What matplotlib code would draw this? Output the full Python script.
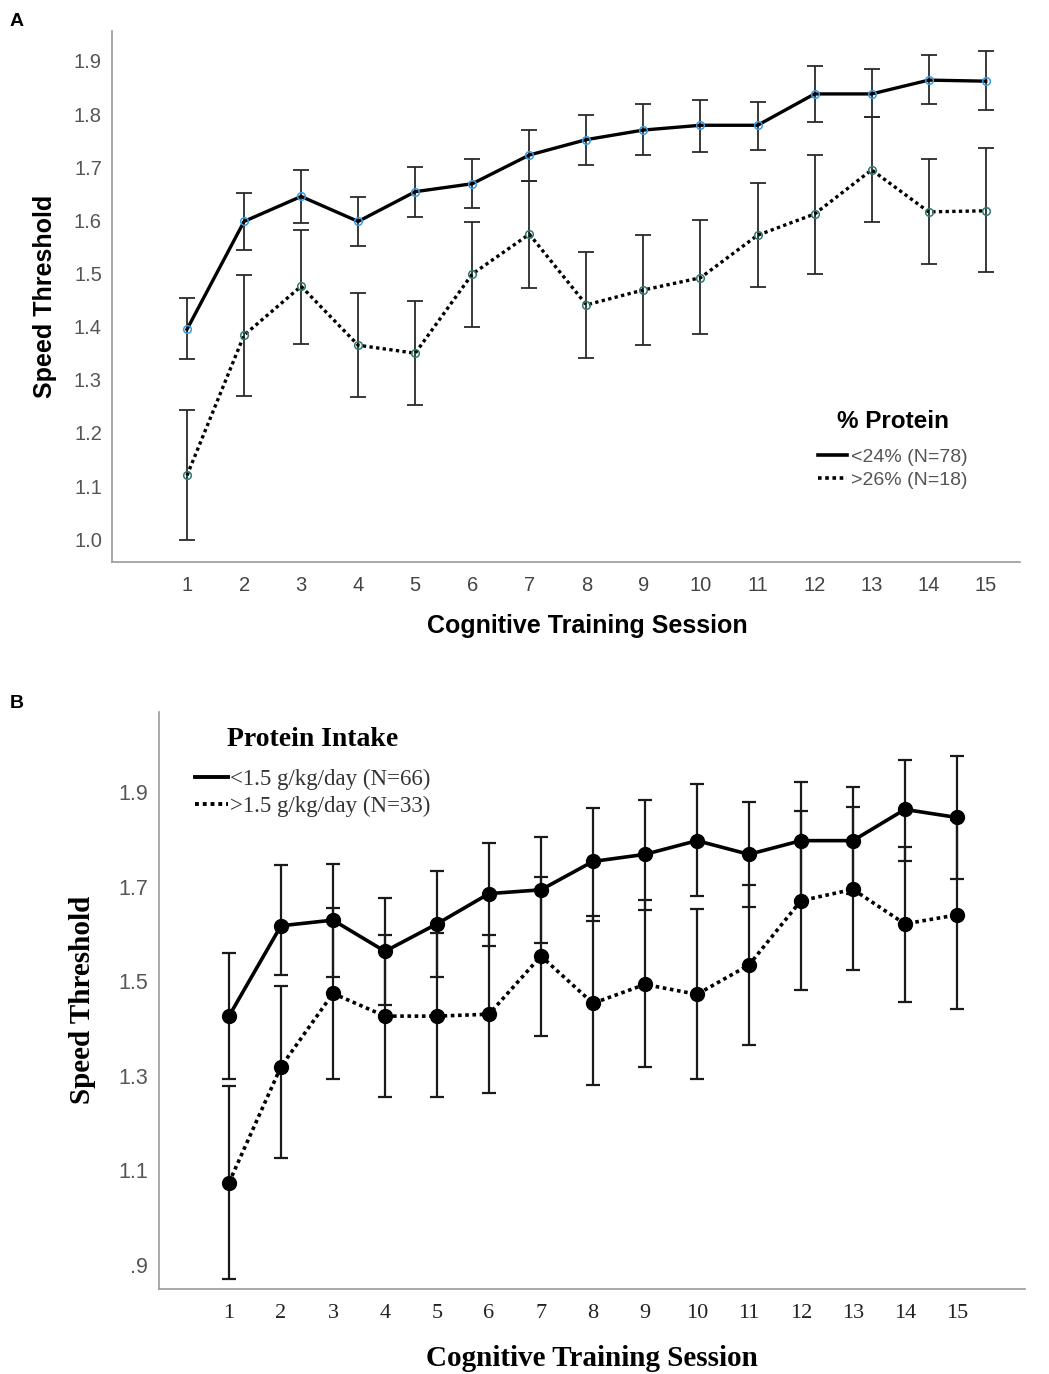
import numpy as np
import matplotlib
matplotlib.use("Agg")
from matplotlib import pyplot as plt
from matplotlib.lines import Line2D

sessions = list(range(1, 16))

# panel A: % protein
a_low_mean = [1.395, 1.598, 1.645, 1.598, 1.654, 1.669, 1.723, 1.752, 1.770, 1.779, 1.779, 1.838, 1.838, 1.864, 1.862]
a_low_top = [1.454, 1.652, 1.695, 1.644, 1.700, 1.715, 1.770, 1.799, 1.819, 1.826, 1.823, 1.891, 1.885, 1.911, 1.918]
a_low_bot = [1.339, 1.544, 1.595, 1.551, 1.607, 1.623, 1.674, 1.705, 1.723, 1.729, 1.732, 1.785, 1.794, 1.819, 1.808]
a_high_mean = [1.120, 1.384, 1.476, 1.365, 1.350, 1.499, 1.574, 1.441, 1.469, 1.492, 1.572, 1.612, 1.695, 1.616, 1.618]
a_high_top = [1.243, 1.497, 1.582, 1.463, 1.449, 1.596, 1.674, 1.541, 1.572, 1.600, 1.671, 1.723, 1.794, 1.716, 1.736]
a_high_bot = [0.999, 1.270, 1.368, 1.267, 1.253, 1.400, 1.472, 1.341, 1.365, 1.387, 1.474, 1.500, 1.596, 1.518, 1.503]
a_labels = ["<24% (N=78)", ">26% (N=18)"]
a_yticks = [1.0, 1.1, 1.2, 1.3, 1.4, 1.5, 1.6, 1.7, 1.8, 1.9]

# panel B: protein intake g/kg/day
b_low_mean = [1.426, 1.617, 1.629, 1.563, 1.621, 1.685, 1.693, 1.753, 1.768, 1.797, 1.768, 1.797, 1.797, 1.863, 1.846]
b_low_top = [1.559, 1.746, 1.748, 1.676, 1.733, 1.793, 1.805, 1.866, 1.883, 1.916, 1.879, 1.922, 1.910, 1.968, 1.977]
b_low_bot = [1.293, 1.513, 1.508, 1.449, 1.508, 1.574, 1.580, 1.627, 1.651, 1.679, 1.657, 1.672, 1.684, 1.753, 1.715]
b_high_mean = [1.074, 1.319, 1.474, 1.426, 1.426, 1.430, 1.553, 1.453, 1.493, 1.472, 1.534, 1.670, 1.694, 1.621, 1.640]
b_high_top = [1.279, 1.489, 1.655, 1.598, 1.602, 1.597, 1.721, 1.638, 1.672, 1.653, 1.703, 1.860, 1.868, 1.783, 1.840]
b_high_bot = [0.871, 1.125, 1.293, 1.256, 1.256, 1.264, 1.383, 1.281, 1.319, 1.293, 1.364, 1.481, 1.524, 1.456, 1.440]
b_labels = ["<1.5 g/kg/day (N=66)", ">1.5 g/kg/day (N=33)"]
b_yticks = [0.9, 1.1, 1.3, 1.5, 1.7, 1.9]
b_yticklabels = [".9", "1.1", "1.3", "1.5", "1.7", "1.9"]

SANS = "Liberation Sans"
SERIF = "Liberation Serif"
DOT = (0, (1, 1))


def yerr(mean, bot, top):
    m = np.array(mean)
    return [m - np.array(bot), np.array(top) - m]


fig = plt.figure(figsize=(10.49, 13.74), dpi=100)
W, H = 1049, 1374


def box(l, t, r, b):
    return [l / W, 1 - b / H, (r - l) / W, (b - t) / H]


def style_axes(ax):
    for s in ["top", "right"]:
        ax.spines[s].set_visible(False)
    for s in ["left", "bottom"]:
        ax.spines[s].set_color("#999999")
        ax.spines[s].set_linewidth(1.2)
    ax.tick_params(length=0)


# ---------------- panel A ----------------
axA = fig.add_axes(box(111.7, 30.7, 1020, 562))
style_axes(axA)
axA.errorbar(sessions, a_low_mean, yerr=yerr(a_low_mean, a_low_bot, a_low_top), fmt="none",
             ecolor="#2a2a2a", elinewidth=1.3, capsize=5.6, capthick=1.3, zorder=2)
axA.errorbar(sessions, a_high_mean, yerr=yerr(a_high_mean, a_high_bot, a_high_top), fmt="none",
             ecolor="#2a2a2a", elinewidth=1.3, capsize=5.6, capthick=1.3, zorder=2)
axA.plot(sessions, a_low_mean, color="black", lw=2.4, zorder=3,
         marker="o", ms=5.5, mfc="none", mec="#3a9be0", mew=1.1)
axA.plot(sessions, a_high_mean, color="black", lw=2.4, ls=DOT, zorder=3,
         marker="o", ms=5.5, mfc="none", mec="#2f7a72", mew=1.1)
axA.set_xlim(-0.32, 15.6)
axA.set_ylim(0.957, 1.957)
axA.set_xticks(sessions)
axA.set_yticks(a_yticks)
axA.set_yticklabels(["%.1f" % v for v in a_yticks])
axA.tick_params(axis="y", pad=7, labelsize=14.5, labelcolor="#555555")
axA.tick_params(axis="x", pad=10, labelsize=14.5, labelcolor="#444444")
for t in axA.get_xticklabels() + axA.get_yticklabels():
    t.set_family(SANS)

hA = [Line2D([], [], color="black", lw=2.6),
      Line2D([], [], color="black", lw=2.6, ls=DOT)]
legA = axA.legend(hA, a_labels, loc="upper left", bbox_to_anchor=(808 / W, 1 - 400 / H),
                  bbox_transform=fig.transFigure, frameon=False, handlelength=1.5,
                  handletextpad=0.2, labelspacing=0.3, borderpad=0, prop={"family": SANS, "size": 14},
                  title="% Protein", title_fontproperties={"family": SANS, "size": 17.5, "weight": "bold"})
for t in legA.get_texts():
    t.set_color("#555555")
legA._legend_box.sep = 11

fig.text(45 / W, 1 - 296 / H, "Speed Threshold", rotation=90, ha="center", va="center",
         family=SANS, fontsize=18, fontweight="bold")
fig.text(587 / W, 1 - 626 / H, "Cognitive Training Session", ha="center", va="center",
         family=SANS, fontsize=18, fontweight="bold")
fig.text(10 / W, 1 - 22 / H, "A", ha="left", va="center", family=SANS, fontsize=14, fontweight="bold")

# ---------------- panel B ----------------
axB = fig.add_axes(box(159, 712, 1025, 1289))
style_axes(axB)
axB.errorbar(sessions, b_low_mean, yerr=yerr(b_low_mean, b_low_bot, b_low_top), fmt="none",
             ecolor="#1a1a1a", elinewidth=1.6, capsize=4.8, capthick=1.6, zorder=2)
axB.errorbar(sessions, b_high_mean, yerr=yerr(b_high_mean, b_high_bot, b_high_top), fmt="none",
             ecolor="#1a1a1a", elinewidth=1.6, capsize=4.8, capthick=1.6, zorder=2)
axB.plot(sessions, b_low_mean, color="black", lw=2.6, zorder=3, marker="o", ms=10, mfc="black", mec="black")
axB.plot(sessions, b_high_mean, color="black", lw=2.6, ls=DOT, zorder=3, marker="o", ms=10, mfc="black", mec="black")
axB.set_xlim(-0.346, 16.31)
axB.set_ylim(0.849, 2.069)
axB.set_xticks(sessions)
axB.set_yticks(b_yticks)
axB.set_yticklabels(b_yticklabels)
axB.tick_params(axis="y", pad=8, labelsize=15.5, labelcolor="#555555")
axB.tick_params(axis="x", pad=11, labelsize=16, labelcolor="#222222")
for t in axB.get_yticklabels():
    t.set_family(SANS)
for t in axB.get_xticklabels():
    t.set_family(SERIF)

hB = [Line2D([], [], color="black", lw=2.8),
      Line2D([], [], color="black", lw=2.8, ls=DOT)]
legB = axB.legend(hB, b_labels, loc="upper left", bbox_to_anchor=(184 / W, 1 - 716 / H),
                  bbox_transform=fig.transFigure, frameon=False, handlelength=1.4,
                  handletextpad=0.12, labelspacing=0.22, borderpad=0, prop={"family": SERIF, "size": 16.5},
                  title="Protein Intake", title_fontproperties={"family": SERIF, "size": 20, "weight": "bold"})
for t in legB.get_texts():
    t.set_color("#333333")
legB._legend_box.sep = 12

fig.text(83 / W, 1 - 1000 / H, "Speed Threshold", rotation=90, ha="center", va="center",
         family=SERIF, fontsize=21, fontweight="bold")
fig.text(592 / W, 1 - 1366 / H, "Cognitive Training Session", ha="center", va="baseline",
         family=SERIF, fontsize=21, fontweight="bold")
fig.text(10 / W, 1 - 703 / H, "B", ha="left", va="center", family=SANS, fontsize=14, fontweight="bold")

fig.savefig("out.png", dpi=100, facecolor="white")
